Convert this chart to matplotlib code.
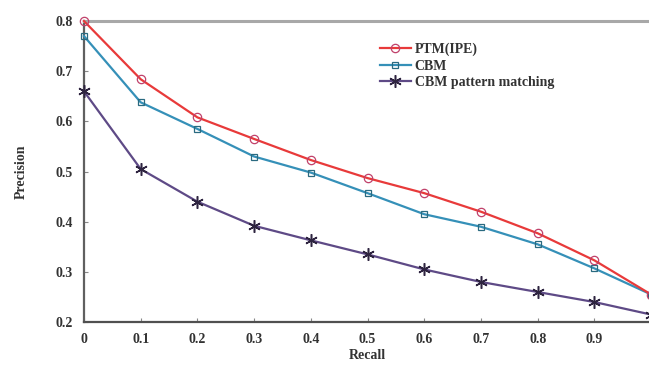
import matplotlib.pyplot as plt

recall = [0, 0.1, 0.2, 0.3, 0.4, 0.5, 0.6, 0.7, 0.8, 0.9, 1.0]
ptm_ipe = [0.80, 0.684, 0.608, 0.565, 0.523, 0.487, 0.457, 0.420, 0.377, 0.323, 0.255]
cbm = [0.770, 0.638, 0.585, 0.530, 0.498, 0.457, 0.415, 0.390, 0.355, 0.307, 0.255]
cbm_pattern = [0.660, 0.505, 0.440, 0.392, 0.363, 0.335, 0.305, 0.280, 0.260, 0.240, 0.215]

xticks = [0, 0.1, 0.2, 0.3, 0.4, 0.5, 0.6, 0.7, 0.8, 0.9, 1.0]
xtick_labels = ['0', '0.1', '0.2', '0.3', '0.4', '0.5', '0.6', '0.7', '0.8', '0.9', '1']
yticks = [0.2, 0.3, 0.4, 0.5, 0.6, 0.7, 0.8]

plt.rcParams['font.family'] = ['Liberation Serif', 'DejaVu Serif']
plt.rcParams['font.weight'] = 'bold'

fig = plt.figure(figsize=(6.49, 3.69), dpi=100)
ax = fig.add_axes([0.1294, 0.127, 0.874, 0.816])

ax.plot(recall, ptm_ipe, color='#e83a3a', lw=1.6, marker='o', ms=6,
        mfc='none', mec='#c0406a', mew=0.9, label='PTM(IPE)', clip_on=False, zorder=4)
ax.plot(recall, cbm, color='#3590b8', lw=1.6, marker='s', ms=5,
        mfc='none', mec='#2a6a80', mew=0.9, label='CBM', clip_on=False, zorder=3)
ax.plot(recall, cbm_pattern, color='#5e4a86', lw=1.6, marker=(6, 2, 0), ms=9,
        mec='#2e2440', mew=1.1, label='CBM pattern matching', clip_on=False, zorder=3)

ax.set_xlim(0, 1.0)
ax.set_ylim(0.2, 0.8)
ax.set_xticks(xticks)
ax.set_xticklabels(xtick_labels)
ax.set_yticks(yticks)
ax.set_yticklabels(['%.1f' % v for v in yticks])
ax.tick_params(direction='in', length=3, width=0.8, colors='#888888',
               labelcolor='#333333', labelsize=10, pad=8)

ax.spines['right'].set_visible(False)
ax.spines['top'].set_color('#a8a8a8')
ax.spines['top'].set_linewidth(2.2)
ax.spines['left'].set_color('#606060')
ax.spines['left'].set_linewidth(1.6)
ax.spines['bottom'].set_color('#505050')
ax.spines['bottom'].set_linewidth(1.6)

ax.set_xlabel('Recall', fontsize=10, fontweight='bold', color='#333333', labelpad=2)
ax.set_ylabel('Precision', fontsize=10, fontweight='bold', color='#333333', labelpad=20)

ax.legend(loc='upper left', bbox_to_anchor=(0.5, 0.97), frameon=False,
          fontsize=10, handlelength=2.2, handletextpad=0.3, labelspacing=0.25,
          labelcolor='#333333')

fig.savefig('out.png', dpi=100)
